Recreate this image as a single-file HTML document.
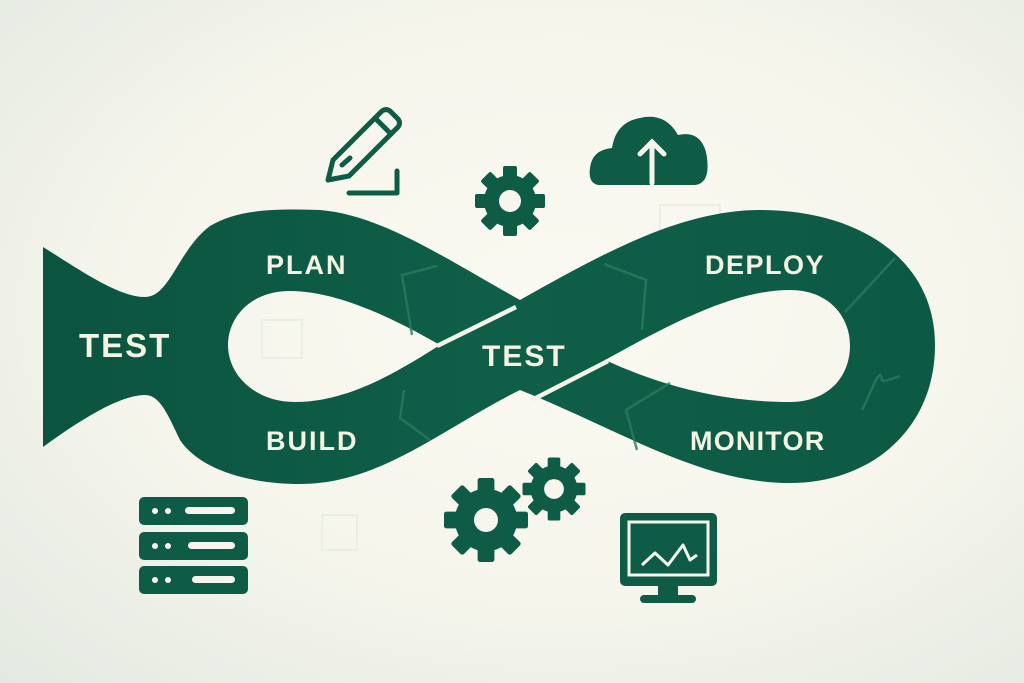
<!DOCTYPE html>
<html><head><meta charset="utf-8"><style>
html,body{margin:0;padding:0;}
body{width:1024px;height:683px;overflow:hidden;background:radial-gradient(ellipse at 55% 45%,#fbfaf2 0%,#f5f5ec 55%,#e3e9e1 100%);font-family:"Liberation Sans",sans-serif;}
svg{position:absolute;left:0;top:0;}
</style></head><body>
<svg width="1024" height="683" viewBox="0 0 1024 683">
<defs>
<linearGradient id="g" x1="0" x2="1" y1="0" y2="0">
<stop offset="0" stop-color="#0b5440"/><stop offset="0.5" stop-color="#0f5f48"/><stop offset="1" stop-color="#0d5a44"/>
</linearGradient>
</defs>
<g fill="none" stroke="#e6ebe3" stroke-width="1.5">
<rect x="262" y="320" width="40" height="38"/><rect x="322" y="515" width="35" height="35"/><rect x="660" y="205" width="60" height="40"/>
</g>
<path fill="url(#g)" fill-rule="evenodd" d="M43,247 C80,270 118,297 145,297 C170,297 178,250 210,226 C240,208 280,209 320,210 C380,215 440,255 520,300 C600,255 680,210 760,210 C860,210 935,260 935,345 C935,430 870,483 790,483 C700,483 620,430 520,390 C440,430 380,484 300,484 C250,484 200,470 180,440 C168,415 160,395 145,395 C120,395 80,420 43,447 Z
M440,345 C400,322 340,291 290,291 C250,291 228,318 228,345 C228,375 255,402 295,402 C350,402 400,370 440,345 Z
M605,360 C660,330 730,290 790,290 C830,290 850,318 850,345 C850,380 825,402 790,402 C720,402 660,385 605,360 Z"/>
<path d="M437,346 L516,307" stroke="#f4f3ea" stroke-width="4.5" fill="none"/>
<path d="M532,400 L608,361" stroke="#f4f3ea" stroke-width="4.5" fill="none"/>
<g stroke="#2b7a62" stroke-width="2.5" fill="none" opacity="0.8">
<path d="M437,266 L402,275 L412,335"/><path d="M404,390 L400,418 L430,440"/>
<path d="M604,264 L646,280 L642,330"/><path d="M670,383 L626,410 L637,450"/>
<path d="M845,312 L895,258"/><path d="M862,410 C870,395 875,378 880,375 C885,380 875,385 900,376"/>
</g>
<g fill="#f5f3e3" font-weight="bold" font-family="Liberation Sans,sans-serif" letter-spacing="2">
<text x="79" y="357" font-size="33">TEST</text>
<text x="266" y="274" font-size="27">PLAN</text>
<text x="266" y="450" font-size="27">BUILD</text>
<text x="482" y="366" font-size="30">TEST</text>
<text x="705" y="274" font-size="27" letter-spacing="1.5">DEPLOY</text>
<text x="690" y="450" font-size="27" letter-spacing="1.2">MONITOR</text>
</g>
<!-- pencil -->
<g stroke="#0f5c46" stroke-width="5" fill="none" stroke-linejoin="round" stroke-linecap="round">
<path d="M328,180 L333,160 L382,111 Q386,108 390,111 L398,119 Q401,123 398,127 L349,176 Z"/>
<path d="M375,118 L391,134"/><path d="M342,165 L350,158"/>
<path d="M349,193 L397,193 L397,171"/>
</g>
<!-- gears -->
<g fill="#0f5c46">
<g transform="translate(510,201)">
<circle r="26"/>
<g id="t"><rect x="-7" y="-35" width="14" height="14" rx="2"/></g>
<use href="#t" transform="rotate(45)"/><use href="#t" transform="rotate(90)"/><use href="#t" transform="rotate(135)"/><use href="#t" transform="rotate(180)"/><use href="#t" transform="rotate(225)"/><use href="#t" transform="rotate(270)"/><use href="#t" transform="rotate(315)"/>
<circle r="11" fill="#f7f6ee"/>
</g>
<g transform="translate(486,520) scale(1.2)">
<circle r="26"/>
<use href="#t"/><use href="#t" transform="rotate(45)"/><use href="#t" transform="rotate(90)"/><use href="#t" transform="rotate(135)"/><use href="#t" transform="rotate(180)"/><use href="#t" transform="rotate(225)"/><use href="#t" transform="rotate(270)"/><use href="#t" transform="rotate(315)"/>
<circle r="10" fill="#f7f6ee"/>
</g>
<g transform="translate(554,489) scale(0.9)">
<circle r="26"/>
<use href="#t"/><use href="#t" transform="rotate(45)"/><use href="#t" transform="rotate(90)"/><use href="#t" transform="rotate(135)"/><use href="#t" transform="rotate(180)"/><use href="#t" transform="rotate(225)"/><use href="#t" transform="rotate(270)"/><use href="#t" transform="rotate(315)"/>
<circle r="11" fill="#f7f6ee"/>
</g>
<!-- cloud -->
<path d="M598,185 Q588,183 590,168 Q592,150 612,148 Q616,122 640,118 Q665,112 678,135 Q700,130 706,152 Q712,183 695,185 Z"/>
<!-- servers -->
<rect x="139" y="497" width="109" height="28" rx="5"/>
<rect x="139" y="532" width="109" height="28" rx="5"/>
<rect x="139" y="566" width="109" height="28" rx="5"/>
<!-- monitor -->
<rect x="620" y="513" width="97" height="73" rx="5"/>
<rect x="658" y="584" width="20" height="14"/>
<rect x="640" y="595" width="56" height="8" rx="4"/>
</g>
<path d="M652,183 L652,142 M640,154 L652,142 L664,154" stroke="#f7f6ee" stroke-width="5" fill="none" stroke-linecap="round"/>
<g fill="#f7f6ee">
<circle cx="155" cy="511" r="3"/><circle cx="168" cy="511" r="3"/><rect x="185" y="507" width="50" height="7" rx="3.5"/>
<circle cx="155" cy="546" r="3"/><circle cx="168" cy="546" r="3"/><rect x="188" y="542" width="47" height="7" rx="3.5"/>
<circle cx="155" cy="580" r="3"/><circle cx="168" cy="580" r="3"/><rect x="192" y="576" width="43" height="7" rx="3.5"/>
</g>
<rect x="629" y="522" width="79" height="53" fill="none" stroke="#f7f6ee" stroke-width="3"/>
<path d="M642,565 L655,553 L668,565 L683,545 L690,560 L697,555" stroke="#f7f6ee" stroke-width="3" fill="none" stroke-linejoin="round"/>
</svg>
</body></html>
